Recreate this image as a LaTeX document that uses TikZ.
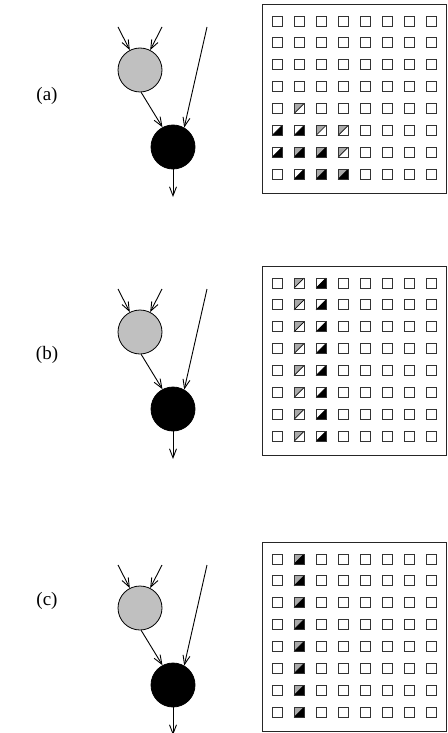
\documentclass[tikz,border=0pt]{standalone}
\usepackage{fontspec}
\setmainfont{Liberation Serif}
\usetikzlibrary{arrows.meta}
\definecolor{cgray}{RGB}{192,192,192}
\definecolor{sgray}{RGB}{170,170,170}
\tikzset{
  gnode/.style={circle,draw=black,line width=0.8pt,fill=cgray,minimum size=44,inner sep=0},
  bnode/.style={circle,draw=black,line width=0.8pt,fill=black,minimum size=44,inner sep=0},
  edge/.style={line width=0.9pt,-{Straight Barb[length=9pt,width=7pt,line width=0.9pt]}},
  plain/.style={line width=0.9pt},
  frame/.style={draw=black!85,line width=1.1pt},
  sq/.style={draw=black!80,line width=0.9pt,fill=white},
  lbl/.style={font=\fontsize{19}{22}\selectfont,inner sep=0}
}
% \cellhalf{cx}{cy}{UL colour}{LR colour}
\newcommand{\cellhalf}[4]{%
  \fill[#3] ({#1-5},{#2-5}) -- ({#1+5},{#2-5}) -- ({#1-5},{#2+5}) -- cycle;
  \fill[#4] ({#1+5},{#2-5}) -- ({#1+5},{#2+5}) -- ({#1-5},{#2+5}) -- cycle;
  \draw[black,line width=0.7pt] ({#1-5},{#2+5}) -- ({#1+5},{#2-5});
  \draw[sq,fill=none] ({#1-5},{#2-5}) rectangle ({#1+5},{#2+5});
}
\newcommand{\cx}[1]{(277+22.1*(#1-1))}
\begin{document}
\begin{tikzpicture}[x=1pt,y=-1pt]
\useasboundingbox (0,0) rectangle (447,733);
\fill[white] (0,0) rectangle (447,733);
\foreach \p/\off/\ly/\lt in {a/0/96/(a), b/262/355/(b), c/538/601/(c)}{
  \node[lbl] (lab\p) at (47,\ly) {\lt};
  \node[gnode] (g\p) at (140,70+\off) {};
  \node[bnode] (k\p) at (173,147+\off) {};
  \coordinate (s1\p) at (118,27+\off);
  \coordinate (s2\p) at (162,27+\off);
  \coordinate (s3\p) at (207,27+\off);
  \coordinate (e\p) at (173,197+\off);
  \draw[edge] (s1\p) -- (g\p);
  \draw[edge] (s2\p) -- (g\p);
  \draw[edge] (s3\p) -- (k\p.60);
  \draw[edge] (g\p.-87) -- (k\p.118);
  \draw[edge] (k\p.south) -- (e\p);
  \node[frame,minimum width=184,minimum height=189,inner sep=0,anchor=north west] (f\p) at (262,4+\off) {};
  \foreach \i in {1,...,8}{
    \foreach \j in {1,...,8}{
      \draw[sq] ({277+22.1*(\i-1)-5},{21+\off+21.9*(\j-1)-5}) rectangle ++(10,10);
    }
  }
}
% panel (a)
\def\rowy#1{21+21.9*(#1-1)}
\cellhalf{299}{\rowy{5}}{sgray}{white}
\cellhalf{277}{\rowy{6}}{white}{black}
\cellhalf{299}{\rowy{6}}{white}{black}
\cellhalf{321}{\rowy{6}}{sgray}{white}
\cellhalf{343}{\rowy{6}}{sgray}{white}
\cellhalf{277}{\rowy{7}}{white}{black}
\cellhalf{299}{\rowy{7}}{sgray}{black}
\cellhalf{321}{\rowy{7}}{sgray}{black}
\cellhalf{343}{\rowy{7}}{sgray}{white}
\cellhalf{299}{\rowy{8}}{white}{black}
\cellhalf{321}{\rowy{8}}{sgray}{black}
\cellhalf{343}{\rowy{8}}{sgray}{black}
% panel (b)
\foreach \j in {1,...,8}{
  \cellhalf{299}{262+\rowy{\j}}{sgray}{white}
  \cellhalf{321}{262+\rowy{\j}}{white}{black}
}
% panel (c)
\foreach \j in {1,...,8}{
  \cellhalf{299}{538+\rowy{\j}}{sgray}{black}
}
\end{tikzpicture}
\end{document}
